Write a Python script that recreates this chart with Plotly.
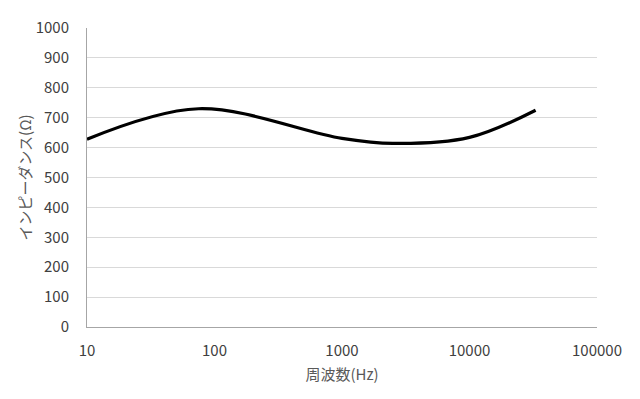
import plotly.graph_objects as go

freq = [10, 75, 1000, 2500, 10000, 33000]
impedance = [628, 730, 631, 614, 634, 725]

y_ticks = list(range(0, 1001, 100))
x_ticks = [10, 100, 1000, 10000, 100000]
x_tick_text = ["10", "100", "1000", "10000", "100000"]

font_family = "Noto Sans CJK JP, Noto Sans, sans-serif"
tick_col = "#404040"
title_col = "#595959"

fig = go.Figure()
fig.add_trace(go.Scatter(
    x=freq, y=impedance, mode="lines",
    line=dict(color="black", width=3.2, shape="spline", smoothing=1.0),
    showlegend=False, hoverinfo="skip",
))

fig.update_layout(
    width=640, height=399,
    margin=dict(l=87, r=43, t=28, b=72),
    paper_bgcolor="white", plot_bgcolor="white",
    font=dict(family=font_family, size=15, color=tick_col),
    xaxis=dict(
        type="log", range=[1, 5],
        tickvals=x_ticks, ticktext=x_tick_text,
        showgrid=False, zeroline=False,
        showline=True, linecolor="#a6a6a6", linewidth=1,
        ticks="", ticklabelstandoff=10,
        tickfont=dict(size=15, color=tick_col),
        title=dict(text="周波数(Hz)", font=dict(size=15, color=title_col), standoff=10),
    ),
    yaxis=dict(
        range=[0, 1000], tickvals=y_ticks,
        showgrid=True, gridcolor="#d9d9d9", gridwidth=1,
        zeroline=False,
        showline=True, linecolor="#a6a6a6", linewidth=1,
        ticks="", ticklabelstandoff=14,
        tickfont=dict(size=15, color=tick_col),
        title=dict(text="インピーダンス(Ω)", font=dict(size=15, color=title_col), standoff=0),
    ),
)

fig.write_html("out.html")
